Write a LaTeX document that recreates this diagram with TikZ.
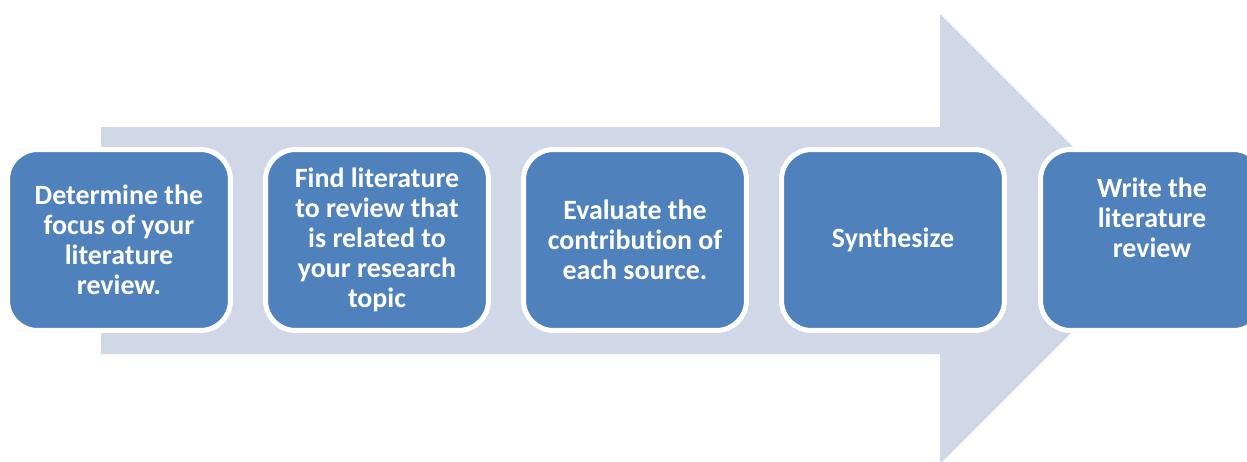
\documentclass[tikz,border=0pt]{standalone}
\usepackage{fontspec}
\setmainfont[Ligatures=NoCommon]{Carlito}
\usepackage{tikz}
\definecolor{stepblue}{HTML}{4F81BD}
\definecolor{flowgrey}{HTML}{D0D8E8}
\tikzset{
	flow/.style={fill=flowgrey},
	stepbox/.style={draw=white, line width=0.1cm, fill=stepblue, rounded corners=0.6cm,
		minimum width=4.46cm, minimum height=3.62cm, inner sep=0pt,
		text=white, align=center, font=\bfseries\fontsize{15.9}{17.1}\selectfont},
}

\begin{document}
\begin{tikzpicture}[x=0.02cm, y=-0.02cm]
	\useasboundingbox (0,0) rectangle (1247,461);
	\clip (0,0) rectangle (1247,461);

	\fill [flow] (101,127) -- (940,127) -- (940,14) -- (1165,239) -- (940,464)
		-- (940,354) -- (101,354) -- cycle;

	\node (focus) [stepbox] at (119,240) {Determine the\\focus of your\\literature\\review.};
	\node (find) [stepbox] at (377,240) {Find literature\\to review that\\is related to\\your research\\topic};
	\node (evaluate) [stepbox] at (635,240) {Evaluate the\\contribution of\\each source.};
	\node (synth) [stepbox] at (893,240) {Synthesize};
	\node (write) [stepbox] at (1152,240) {Write the\\literature\\review\\[0.28cm]\mbox{}};
\end{tikzpicture}
\end{document}
